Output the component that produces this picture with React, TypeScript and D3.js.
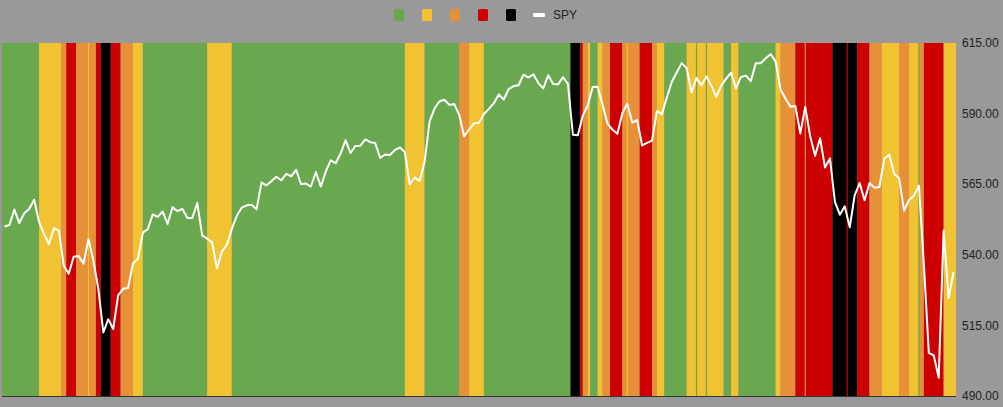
import React from "react";
import * as d3 from "d3";

// SPY daily close (dividend-adjusted), 2024-07-08 .. 2025-04-11 (193 trading days)
const spy: number[] = [
  550.03, 550.56, 556.01, 551.22, 554.69, 556.22, 559.52, 551.67, 547.43, 543.8,
  549.4, 548.54, 536.11, 533.32, 539.29, 539.61, 536.87, 545.6, 537.87, 527.86,
  512.49, 517.21, 513.75, 525.63, 527.95, 528.23, 536.91, 538.61, 547.84, 549.07,
  554.32, 553.41, 555.32, 550.96, 556.81, 555.48, 556.25, 553.02, 553.07, 558.35,
  546.86, 545.74, 544.41, 535.25, 541.24, 543.6, 549.18, 553.8, 556.69, 557.52,
  557.75, 556.09, 565.58, 564.61, 566.02, 567.64, 566.39, 568.63, 567.81, 570.08,
  564.98, 565.22, 564.18, 569.31, 564.16, 569.5, 573.44, 572.44, 575.86, 580.57,
  576.06, 578.57, 578.62, 580.84, 579.89, 579.58, 574.29, 575.53, 575.33, 577.11,
  578.04, 576.29, 564.99, 567.38, 566.16, 573.0, 587.25, 591.79, 594.36, 594.92,
  593.07, 593.36, 589.55, 582.0, 584.38, 586.52, 586.72, 589.86, 591.69, 593.7,
  596.8, 594.99, 598.69, 599.76, 600.04, 603.77, 602.77, 603.92, 600.8, 598.94,
  603.57, 600.46, 600.34, 602.9, 600.42, 582.52, 582.34, 589.34, 592.86, 599.45,
  599.49, 593.18, 586.41, 584.28, 582.85, 590.13, 593.53, 586.82, 587.68, 578.71,
  579.61, 580.41, 590.96, 589.82, 595.75, 601.2, 604.58, 607.88, 606.1, 597.53,
  602.66, 599.96, 603.18, 599.97, 595.93, 599.93, 602.37, 604.46, 598.93, 602.99,
  603.45, 601.51, 607.86, 607.83, 609.61, 611.05, 608.51, 598.53, 595.38, 592.42,
  592.72, 582.97, 592.36, 581.98, 575.09, 581.27, 570.95, 574.15, 558.86, 554.21,
  557.16, 549.73, 561.08, 565.41, 559.3, 565.39, 563.75, 563.98, 574.08, 575.46,
  568.59, 567.08, 555.66, 559.39, 560.97, 564.52, 536.7, 505.28, 504.38, 496.48,
  548.62, 524.58, 533.94,
];

// Regime colour runs: [state, from day, to day] (day units along the band axis)
const regimeRuns: [string, number, number][] = [
  ["G", 0, 7.5], ["Y", 7.5, 12], ["O", 12, 13], ["R", 13, 15], ["O", 15, 19],
  ["R", 19, 20], ["K", 20, 22], ["R", 22, 24], ["O", 24, 26.5], ["Y", 26.5, 28.5],
  ["G", 28.5, 41.5], ["Y", 41.5, 46.5], ["G", 46.5, 81.5], ["Y", 81.5, 85.5],
  ["G", 85.5, 92.5], ["O", 92.5, 94.5], ["Y", 94.5, 97.5], ["G", 97.5, 115],
  ["K", 115, 117], ["R", 117, 117.5], ["O", 117.5, 118.5], ["Y", 118.5, 119],
  ["G", 119, 120.5], ["Y", 120.5, 121.5], ["O", 121.5, 123], ["R", 123, 125.5],
  ["O", 125.5, 129], ["R", 129, 131.5], ["O", 131.5, 132.5], ["Y", 132.5, 134],
  ["G", 134, 138.5], ["Y", 138.5, 146], ["G", 146, 147.5], ["Y", 147.5, 149],
  ["G", 149, 156.5], ["Y", 156.5, 157.5], ["O", 157.5, 160.5], ["R", 160.5, 168],
  ["K", 168, 173], ["R", 173, 175.5], ["O", 175.5, 178], ["Y", 178, 181.5],
  ["O", 181.5, 183.5], ["Y", 183.5, 185.5], ["O", 185.5, 186.5], ["R", 186.5, 190.5],
  ["Y", 190.5, 193],
];

// single-day regime flashes (zero-width slivers)
const regimeFlashes: [string, number][] = [
  ["Y", 17.5], ["Y", 126.5], ["G", 140.5], ["G", 142.5], ["O", 162.5], ["R", 171], ["G", 185.5],
];

const regimeKeys = ["G", "Y", "O", "R", "K"];
const regimeColors: Record<string, string> = {
  G: "#6aa84f",
  Y: "#f1c232",
  O: "#e69138",
  R: "#cc0000",
  K: "#000000",
};

const yTicks = [490, 515, 540, 565, 590, 615];

const W = 1003;
const H = 407;
const plot = { left: 2, right: 956, top: 43, bottom: 396 };

export default function App() {
  const n = spy.length;
  const xu = d3.scaleLinear().domain([0, n]).range([plot.left, plot.right]);
  const y = d3.scaleLinear().domain([490, 615]).range([plot.bottom, plot.top]);
  const line = d3
    .line<number>()
    .x((_, i) => xu(i + 0.5))
    .y((d) => y(d));

  const font = "Arial, 'Liberation Sans', sans-serif";
  const legendX0 = 394;
  const legendStep = 28;

  return (
    <svg
      width={W}
      height={H}
      style={{ position: "fixed", left: 0, top: 0, display: "block" }}
      fontFamily={font}
    >
      <rect x={0} y={0} width={W} height={H} fill="#999999" />
      {regimeRuns.map(([k, a, b], i) => (
        <rect
          key={"r" + i}
          x={xu(a)}
          y={plot.top}
          width={xu(b) - xu(a)}
          height={plot.bottom - plot.top}
          fill={regimeColors[k]}
        />
      ))}
      {regimeFlashes.map(([k, a], i) => (
        <rect
          key={"f" + i}
          x={xu(a) - 0.6}
          y={plot.top}
          width={1.2}
          height={plot.bottom - plot.top}
          fill={regimeColors[k]}
        />
      ))}
      <line
        x1={plot.left}
        x2={plot.right}
        y1={plot.bottom + 0.5}
        y2={plot.bottom + 0.5}
        stroke="#333333"
        strokeWidth={1}
      />
      <path
        d={line(spy) || ""}
        fill="none"
        stroke="#ffffff"
        strokeWidth={2}
        strokeLinejoin="round"
      />
      {yTicks.map((t) => (
        <text
          key={t}
          x={962}
          y={y(t)}
          dy="0.35em"
          fontSize={12}
          fill="#222222"
        >
          {t.toFixed(2)}
        </text>
      ))}
      {regimeKeys.map((k, i) => (
        <rect
          key={"lg" + k}
          x={legendX0 + i * legendStep}
          y={9}
          width={10}
          height={12}
          rx={1.5}
          fill={regimeColors[k]}
        />
      ))}
      <rect
        x={legendX0 + 5 * legendStep - 1}
        y={13}
        width={12}
        height={4}
        rx={1}
        fill="#ffffff"
      />
      <text x={legendX0 + 5 * legendStep + 19} y={15} dy="0.35em" fontSize={12} fill="#222222">
        SPY
      </text>
    </svg>
  );
}
